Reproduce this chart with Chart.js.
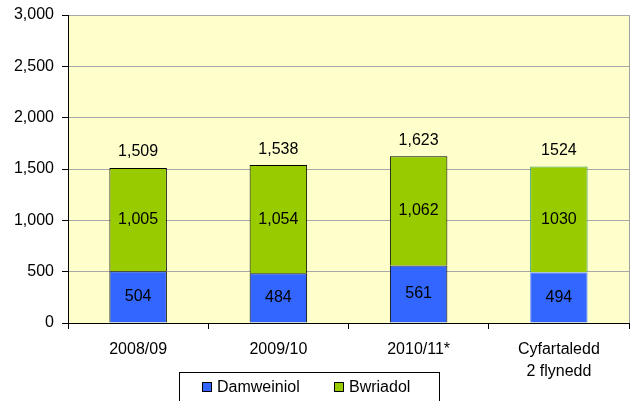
<!DOCTYPE html>
<html>
<head>
<meta charset="utf-8">
<script src="https://cdn.jsdelivr.net/npm/chart.js@4.4.0/dist/chart.umd.min.js"></script>
<style>
  html, body { margin: 0; padding: 0; background: #fff; }
  #wrap { width: 639px; height: 401px; position: relative; }
</style>
</head>
<body>
<div id="wrap"><canvas id="grafico"></canvas></div>
<script>
// data
var categories = ['2008/09', '2009/10', '2010/11*', ['Cyfartaledd', '2 flynedd']];
var damweiniol = [504, 484, 561, 494];
var bwriadol = [1005, 1054, 1062, 1030];
var totals = [1509, 1538, 1623, 1524];
var useCommas = [true, true, true, false];
var yTicks = [0, 500, 1000, 1500, 2000, 2500, 3000];

var FONT = '"Liberation Sans", Arial, sans-serif';
var FSIZE = 16;

function fmt(v, i) {
    return useCommas[i] ? v.toLocaleString('en-US') : String(v);
}

// plot background + right border
var plotBg = {
    id: 'plotBg',
    beforeDraw: function (chart) {
        var a = chart.chartArea, c = chart.ctx;
        c.save();
        c.fillStyle = '#FFFFCC';
        c.fillRect(a.left, a.top, a.right - a.left, a.bottom - a.top);
        c.restore();
    },
    afterDatasetsDraw: function (chart) {
        var a = chart.chartArea, c = chart.ctx;
        c.save();
        c.strokeStyle = '#A0A0A0';
        c.lineWidth = 1;
        c.beginPath();
        c.moveTo(a.right + 0.5, a.top);
        c.lineTo(a.right + 0.5, a.bottom);
        c.stroke();
        c.restore();
    }
};

// values inside the bars and totals on top
var valueLabels = {
    id: 'valueLabels',
    afterDatasetsDraw: function (chart) {
        var c = chart.ctx;
        c.save();
        c.font = FSIZE + 'px ' + FONT;
        c.fillStyle = '#000';
        c.textAlign = 'center';
        c.textBaseline = 'middle';
        chart.data.datasets.forEach(function (ds, di) {
            chart.getDatasetMeta(di).data.forEach(function (bar, i) {
                c.fillText(fmt(ds.data[i], i), bar.x, (bar.y + bar.base) / 2);
            });
        });
        var top = chart.getDatasetMeta(1).data;
        top.forEach(function (bar, i) {
            c.fillText(fmt(totals[i], i), bar.x, bar.y - 16);
        });
        c.restore();
    }
};

// legend in a framed box under the axis
var boxLegend = {
    id: 'boxLegend',
    afterDraw: function (chart) {
        var c = chart.ctx;
        c.save();
        c.strokeStyle = '#000';
        c.lineWidth = 1;
        c.strokeRect(179.5, 372.5, 260, 40);
        c.font = FSIZE + 'px ' + FONT;
        c.textBaseline = 'middle';
        c.textAlign = 'left';
        var items = [
            { text: 'Damweiniol', color: '#3366FF', x: 202 },
            { text: 'Bwriadol', color: '#99CC00', x: 334 }
        ];
        items.forEach(function (it) {
            c.fillStyle = it.color;
            c.fillRect(it.x, 382, 10, 10);
            c.strokeStyle = '#000';
            c.strokeRect(it.x + 0.5, 382.5, 9, 9);
            c.fillStyle = '#000';
            c.fillText(it.text, it.x + 15, 388);
        });
        c.restore();
    }
};

new Chart(document.getElementById('grafico'), {
    type: 'bar',
    data: {
        labels: categories,
        datasets: [{
            label: 'Damweiniol',
            data: damweiniol,
            backgroundColor: '#3366FF',
            borderColor: ['#000', '#000', '#000', '#6F95FF'],
            borderWidth: 1,
            barPercentage: 0.41,
            categoryPercentage: 1
        }, {
            label: 'Bwriadol',
            data: bwriadol,
            backgroundColor: '#99CC00',
            borderColor: ['#000', '#000', '#000', '#3A9A70'],
            borderWidth: 1,
            barPercentage: 0.41,
            categoryPercentage: 1
        }]
    },
    options: {
        responsive: true,
        maintainAspectRatio: false,
        animation: false,
        layout: { padding: { top: 15, right: 10, bottom: 14, left: 0 } },
        plugins: {
            legend: { display: false },
            tooltip: { enabled: false }
        },
        scales: {
            x: {
                stacked: true,
                afterFit: function (s) { s.height = 64; },
                grid: {
                    offset: true,
                    drawOnChartArea: false,
                    tickLength: 6,
                    tickColor: '#000'
                },
                border: { color: '#000' },
                ticks: {
                    color: '#000',
                    font: { family: FONT, size: FSIZE, lineHeight: 1.35 },
                    padding: 10,
                    maxRotation: 0
                }
            },
            y: {
                stacked: true,
                min: 0,
                max: 3000,
                afterFit: function (s) {
                    s.width = 68;
                    s.paddingTop = 0;
                    s.paddingBottom = 0;
                },
                afterBuildTicks: function (s) {
                    s.ticks = yTicks.map(function (v) { return { value: v }; });
                },
                grid: {
                    color: '#A8A8A8',
                    tickColor: '#000',
                    tickLength: 6
                },
                border: { color: '#000' },
                ticks: {
                    color: '#000',
                    font: { family: FONT, size: FSIZE },
                    padding: 8,
                    callback: function (v) { return v.toLocaleString('en-US'); }
                }
            }
        }
    },
    plugins: [plotBg, valueLabels, boxLegend]
});
</script>
</body>
</html>
